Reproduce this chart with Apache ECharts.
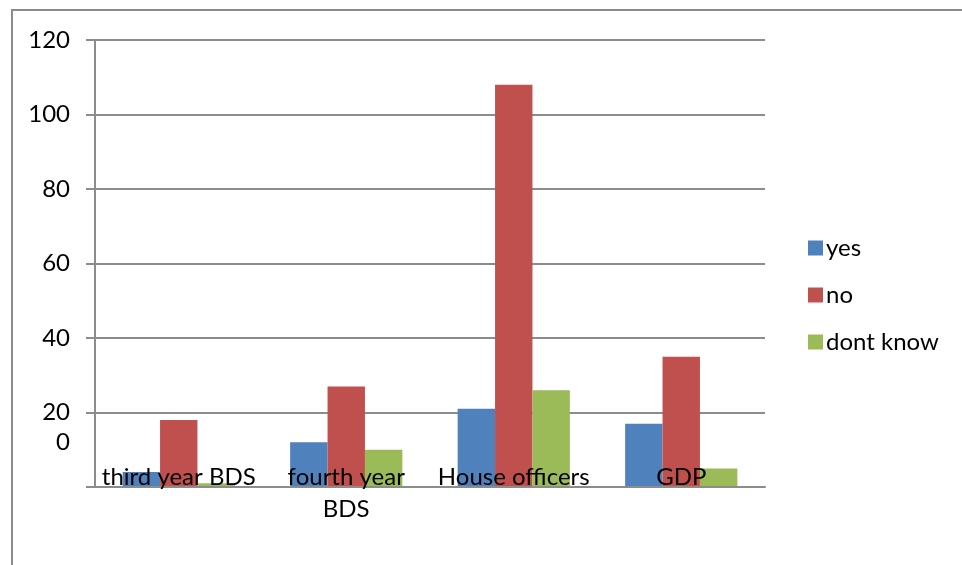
<!DOCTYPE html>
<html>
<head>
<meta charset="utf-8">
<script src="https://cdn.jsdelivr.net/npm/echarts@6/dist/echarts.min.js"></script>
<style>
  html, body { margin: 0; padding: 0; background: #fff; }
  /* outer frame, only top and left edges are visible in the picture */
  .frame {
    position: absolute; left: 11px; top: 9px; width: 1000px; height: 600px;
    border-top: 2px solid #8c8c8c; border-left: 2px solid #8c8c8c;
  }
  #chart { position: absolute; left: 0; top: 0; width: 962px; height: 565px; }
</style>
</head>
<body>
<div class="frame"></div>
<div id="chart"></div>
<script>
// categories and series values
const categories = ['third year BDS', 'fourth year\nBDS', 'House officers', 'GDP'];
const yesValues = [4, 12, 21, 17];
const noValues = [18, 27, 108, 35];
const dontKnowValues = [1, 10, 26, 5];
const seriesNames = ['yes', 'no', 'dont know'];

const FONT = 'Lato';
const FS = 24;
const axisGrey = '#8c8c8c';

const chart = echarts.init(document.getElementById('chart'));

const option = {
  animation: false,
  textStyle: { fontFamily: FONT },
  grid: { left: 95, right: 197, top: 40, bottom: 78 },
  legend: {
    orient: 'vertical',
    left: 808,
    top: 236,
    padding: 0,
    itemWidth: 15,
    itemHeight: 15,
    itemGap: 23,
    icon: 'rect',
    data: seriesNames,
    textStyle: { fontFamily: FONT, fontSize: FS, color: '#000', padding: [0, 0, 0, -2] }
  },
  xAxis: {
    type: 'category',
    data: categories,
    z: 10,
    axisLine: { lineStyle: { color: axisGrey, width: 2 } },
    axisTick: { length: 8, lineStyle: { color: axisGrey, width: 2 } },
    axisLabel: {
      margin: -26,
      fontFamily: FONT,
      fontSize: FS,
      lineHeight: 32,
      color: '#000',
      interval: 0
    }
  },
  yAxis: {
    type: 'value',
    min: 0,
    max: 120,
    interval: 20,
    axisLine: { show: true, lineStyle: { color: axisGrey, width: 2 } },
    axisTick: { show: true, length: 9, lineStyle: { color: axisGrey, width: 2 } },
    splitLine: { lineStyle: { color: axisGrey, width: 2 } },
    axisLabel: {
      margin: 25,
      fontFamily: FONT,
      fontSize: FS,
      color: '#000',
      formatter: function (v) {
        return v === 0 ? '{zero|0}' : String(v);
      },
      rich: {
        zero: { fontFamily: FONT, fontSize: FS, color: '#000', padding: [0, 0, 90, 0] }
      }
    }
  },
  series: [
    { name: 'yes', type: 'bar', data: yesValues, itemStyle: { color: '#4F81BD' }, barGap: '0%', barCategoryGap: '33%' },
    { name: 'no', type: 'bar', data: noValues, itemStyle: { color: '#C0504D' } },
    { name: 'dont know', type: 'bar', data: dontKnowValues, itemStyle: { color: '#9BBB59' } }
  ]
};

chart.setOption(option);
</script>
</body>
</html>
